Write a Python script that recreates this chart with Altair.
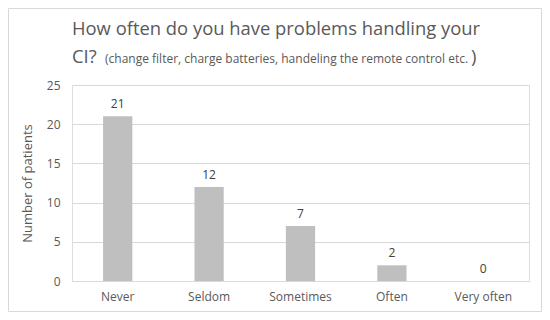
import altair as alt
import pandas as pd

categories = ["Never", "Seldom", "Sometimes", "Often", "Very often"]
patients = [21, 12, 7, 2, 0]

title_line1 = "How often do you have problems handling your"
title_ci = "CI?"
title_small = "(change filter, charge batteries, handeling the remote control etc."
title_paren = ")"
y_title = "Number of patients"
y_ticks = [0, 5, 10, 15, 20, 25]

df = pd.DataFrame({"cat": categories, "n": patients})

FONT = "Open Sans"
GREY = "#595959"

x_enc = alt.X("cat:N", sort=categories, title=None,
              scale=alt.Scale(paddingInner=0.68, paddingOuter=0.34),
              axis=alt.Axis(labelAngle=0, ticks=False, domainColor="#d9d9d9",
                            labelColor=GREY, labelFont=FONT, labelFontSize=12,
                            labelPadding=10, grid=False))
y_enc = alt.Y("n:Q", title=y_title,
              scale=alt.Scale(domain=[0, 25], nice=False),
              axis=alt.Axis(values=y_ticks, ticks=False, domain=False, labelOverlap=False,
                            gridColor="#d9d9d9", labelColor=GREY, labelFont=FONT,
                            labelFontSize=12, labelPadding=12,
                            titleColor=GREY, titleFont=FONT, titleFontSize=13,
                            titleFontWeight="normal", titlePadding=12))

base = alt.Chart(df)
bars = base.mark_bar(color="#bfbfbf").encode(x=x_enc, y=y_enc)
labels = base.mark_text(dy=-12, font=FONT, fontSize=12, color="#404040").encode(
    x=x_enc, y=y_enc, text="n:Q")

t1 = alt.Chart(pd.DataFrame({"t": [title_line1]})).mark_text(
    align="left", baseline="alphabetic", font=FONT, fontSize=18.4, color=GREY).encode(
    x=alt.value(0), y=alt.value(-50), text="t:N")
t2 = alt.Chart(pd.DataFrame({"t": [title_ci]})).mark_text(
    align="left", baseline="alphabetic", font=FONT, fontSize=18.4, color=GREY).encode(
    x=alt.value(0), y=alt.value(-22), text="t:N")
t3 = alt.Chart(pd.DataFrame({"t": [title_small]})).mark_text(
    align="left", baseline="alphabetic", font=FONT, fontSize=12, color=GREY).encode(
    x=alt.value(33), y=alt.value(-22), text="t:N")
t4 = alt.Chart(pd.DataFrame({"t": [title_paren]})).mark_text(
    align="left", baseline="alphabetic", font=FONT, fontSize=18.4, color=GREY).encode(
    x=alt.value(399), y=alt.value(-22), text="t:N")

border = alt.Chart(pd.DataFrame({"a": [0]})).mark_rect(
    fillOpacity=0, stroke="#d9d9d9", strokeWidth=1).encode(
    x=alt.value(-63.5), x2=alt.value(469.5), y=alt.value(-76.5), y2=alt.value(226.5))

chart = alt.layer(border, bars, labels, t1, t2, t3, t4).properties(
    width=457, height=196,
    autosize=alt.AutoSizeParams(type="none"),
    padding={"left": 64, "top": 77, "right": 13, "bottom": 31},
).configure_view(stroke=None).configure(background="white")

chart.save("out.html", embed_options={"renderer": "svg", "actions": False})
